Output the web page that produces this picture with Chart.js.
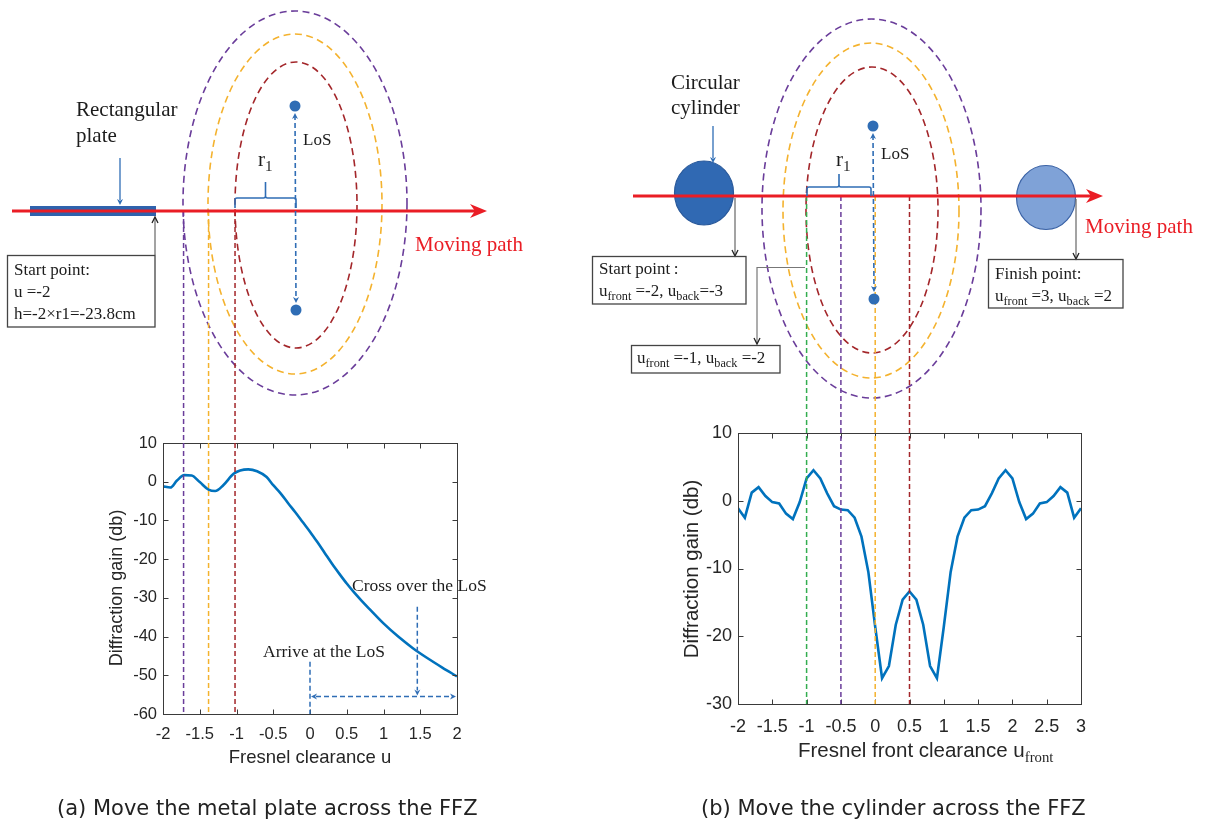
<!DOCTYPE html>
<html>
<head>
<meta charset="utf-8">
<script src="https://cdn.jsdelivr.net/npm/chart.js@4.4.1/dist/chart.umd.min.js"></script>
<style>
  html, body { margin: 0; padding: 0; background: #fff; width: 1207px; height: 827px; overflow: hidden; }
  #panelA { position: absolute; left: 0; top: 0; width: 600px; height: 827px; }
  #panelB { position: absolute; left: 580px; top: 0; width: 627px; height: 827px; }
</style>
</head>
<body>
<div id="panelA"><canvas id="chartA" width="600" height="827"></canvas></div>
<div id="panelB"><canvas id="chartB" width="627" height="827"></canvas></div>
<script>
// ---------- Panel (a): metal plate crossing the first Fresnel zones ----------
const plateU = [-2.0, -1.9, -1.81, -1.71, -1.61, -1.5, -1.38, -1.29, -1.18, -1.04, -0.95, -0.84, -0.72, -0.59,
  -0.5, -0.4, -0.3, -0.2, -0.1, 0.0, 0.1, 0.2, 0.3, 0.4, 0.5, 0.6, 0.7, 0.8, 1.0, 1.2, 1.4, 1.6, 1.8, 2.0];
const plateGain = [-1.2, -1.5, 0.3, 1.7, 1.6, -0.1, -2.05, -2.4, -0.9, 2.05, 2.9, 3.2, 2.7, 1.2,
  -0.9, -3.0, -5.5, -7.9, -10.4, -12.9, -15.6, -18.4, -21.2, -23.8, -26.3, -28.6, -30.7, -32.7, -36.6, -40.0, -43.0, -45.6, -48.0, -50.3];
const plateZoneU = [-1.72, -1.38, -1.02];          // edges of zones 3, 2, 1
const plateXTicks = { min: -2, max: 2, step: 0.5 };
const plateYTicks = { min: -60, max: 10, step: 10 };
const losArriveU = 0;        // plate edge reaches the LoS
const losCrossU = 1.46;      // plate edge has crossed the LoS
const arriveTopGain = -46.5;
const crossTopGain = -32.3;
const spanGain = -55.5;

// ---------- Panel (b): circular cylinder crossing the zones ----------
const cylU = [-2.0, -1.9, -1.8, -1.7, -1.6, -1.5, -1.4, -1.3, -1.2, -1.1,
  -1.0, -0.9, -0.8, -0.7, -0.6, -0.5, -0.4, -0.3, -0.2, -0.1,
  0.0, 0.1, 0.2, 0.3, 0.4, 0.5, 0.6, 0.7, 0.8, 0.9,
  1.0, 1.1, 1.2, 1.3, 1.4, 1.5, 1.6, 1.7, 1.8, 1.9,
  2.0, 2.1, 2.2, 2.3, 2.4, 2.5, 2.6, 2.7, 2.8, 2.9, 3.0];
const cylGain = [-1.1, -2.5, 1.2, 2.0, 0.7, -0.2, -0.4, -1.9, -2.7, -0.2,
  3.3, 4.5, 3.3, 1.1, -0.8, -1.3, -1.4, -2.5, -5.3, -10.5,
  -18.6, -26.2, -24.4, -18.3, -14.6, -13.4, -14.6, -18.3, -24.4, -26.2,
  -18.6, -10.5, -5.3, -2.5, -1.4, -1.3, -0.8, 1.1, 3.3, 4.5,
  3.3, -0.2, -2.7, -1.9, -0.4, -0.2, 0.7, 2.0, 1.2, -2.5, -1.1];
const cylMarkU = [-1.0, -0.5, 0.0, 0.5];
const cylXTicks = { min: -2, max: 3, step: 0.5 };
const cylYTicks = { min: -30, max: 10, step: 10 };

// ---------- styling ----------
const SERIF = '"Liberation Serif", "Times New Roman", serif';
const SANS = '"Liberation Sans", Arial, sans-serif';
const CAPTION = '"DejaVu Sans", sans-serif';
const INK = '#262626';
const TXT = '#1c1c1c';
const PURPLE = '#6a3d9a', ORANGE = '#f4b22e', DARKRED = '#a3262a', GREEN = '#33ad4f';
const LOS_BLUE = '#2f6db5';
const PATH_RED = '#ea1d25';
const CURVE = '#0072BD';
const plateZoneColors = [PURPLE, ORANGE, DARKRED];
const cylMarkColors = [GREEN, PURPLE, ORANGE, DARKRED];

// ---------- drawing helpers ----------
function label(ctx, str, x, y, size, color, family, align) {
  ctx.save();
  ctx.font = size + 'px ' + (family || SERIF);
  ctx.fillStyle = color || TXT;
  ctx.textAlign = align || 'left';
  ctx.textBaseline = 'alphabetic';
  ctx.fillText(str, x, y);
  ctx.restore();
}
// parts: [text, isSubscript]
function richLabel(ctx, parts, x, y, size, color, family, subFamily) {
  ctx.save();
  ctx.fillStyle = color || TXT;
  ctx.textBaseline = 'alphabetic';
  ctx.textAlign = 'left';
  let cx = x;
  parts.forEach(([s, sub]) => {
    const fs = sub ? size * 0.72 : size;
    ctx.font = fs + 'px ' + (sub ? (subFamily || family || SERIF) : (family || SERIF));
    ctx.fillText(s, cx, sub ? y + size * 0.22 : y);
    cx += ctx.measureText(s).width;
  });
  ctx.restore();
}
function dashedSeg(ctx, x1, y1, x2, y2, color, width, dash) {
  ctx.save();
  ctx.strokeStyle = color; ctx.lineWidth = width; ctx.setLineDash(dash);
  ctx.beginPath(); ctx.moveTo(x1, y1); ctx.lineTo(x2, y2); ctx.stroke();
  ctx.restore();
}
function dashedEllipse(ctx, cx, cy, rx, ry, color) {
  ctx.save();
  ctx.strokeStyle = color; ctx.lineWidth = 1.6; ctx.setLineDash([7, 4.5]);
  ctx.beginPath(); ctx.ellipse(cx, cy, rx, ry, 0, 0, Math.PI * 2); ctx.stroke();
  ctx.restore();
}
function solidEllipse(ctx, cx, cy, rx, ry, fill, stroke) {
  ctx.save();
  ctx.beginPath(); ctx.ellipse(cx, cy, rx, ry, 0, 0, Math.PI * 2);
  ctx.fillStyle = fill; ctx.fill();
  ctx.strokeStyle = stroke; ctx.lineWidth = 1.2; ctx.stroke();
  ctx.restore();
}
// arrow head with its tip at (x, y) pointing along angle
function head(ctx, x, y, ang, size, color, filled) {
  ctx.save();
  ctx.translate(x, y); ctx.rotate(ang);
  ctx.beginPath();
  ctx.moveTo(-size, -size * 0.5); ctx.lineTo(0, 0); ctx.lineTo(-size, size * 0.5);
  if (filled) { ctx.lineTo(-size * 0.7, 0); ctx.closePath(); ctx.fillStyle = color; ctx.fill(); }
  else { ctx.strokeStyle = color; ctx.lineWidth = 1.3; ctx.stroke(); }
  ctx.restore();
}
function solidSeg(ctx, pts, color, width) {
  ctx.save();
  ctx.strokeStyle = color; ctx.lineWidth = width;
  ctx.beginPath(); ctx.moveTo(pts[0][0], pts[0][1]);
  for (let i = 1; i < pts.length; i++) ctx.lineTo(pts[i][0], pts[i][1]);
  ctx.stroke();
  ctx.restore();
}
function movingPath(ctx, x0, y, tip) {
  solidSeg(ctx, [[x0, y], [tip - 8, y]], PATH_RED, 3);
  ctx.save();
  ctx.fillStyle = PATH_RED;
  ctx.beginPath();
  ctx.moveTo(tip, y); ctx.lineTo(tip - 17, y - 7); ctx.lineTo(tip - 12, y); ctx.lineTo(tip - 17, y + 7);
  ctx.closePath(); ctx.fill();
  ctx.restore();
}
function losLink(ctx, x1, y1, x2, y2) {
  ctx.save();
  ctx.fillStyle = LOS_BLUE;
  ctx.beginPath(); ctx.arc(x1, y1, 5.5, 0, Math.PI * 2); ctx.fill();
  ctx.beginPath(); ctx.arc(x2, y2, 5.5, 0, Math.PI * 2); ctx.fill();
  ctx.restore();
  dashedSeg(ctx, x1, y1 + 9, x2, y2 - 9, LOS_BLUE, 1.6, [5, 3]);
  head(ctx, x1, y1 + 7, -Math.PI / 2, 6, LOS_BLUE, true);
  head(ctx, x2, y2 - 7, Math.PI / 2, 6, LOS_BLUE, true);
}
function brace(ctx, x1, x2, yBar, yEnd, yPeak) {
  const xm = (x1 + x2) / 2;
  ctx.save();
  ctx.strokeStyle = LOS_BLUE; ctx.lineWidth = 1.6;
  ctx.beginPath();
  ctx.moveTo(x1, yEnd); ctx.lineTo(x1, yBar + 2); ctx.quadraticCurveTo(x1, yBar, x1 + 2, yBar);
  ctx.lineTo(xm - 2, yBar); ctx.quadraticCurveTo(xm, yBar, xm, yBar - 2); ctx.lineTo(xm, yPeak);
  ctx.moveTo(xm, yBar - 2); ctx.quadraticCurveTo(xm, yBar, xm + 2, yBar);
  ctx.lineTo(x2 - 2, yBar); ctx.quadraticCurveTo(x2, yBar, x2, yBar + 2); ctx.lineTo(x2, yEnd);
  ctx.stroke();
  ctx.restore();
}
function box(ctx, x1, y1, x2, y2) {
  ctx.save();
  ctx.strokeStyle = '#444'; ctx.lineWidth = 1.3;
  ctx.strokeRect(x1, y1, x2 - x1, y2 - y1);
  ctx.restore();
}
// MATLAB-style axes box with inward ticks on all four sides
function drawFrame(chart, tickLen) {
  const { ctx, chartArea: a, scales: { x, y } } = chart;
  ctx.save();
  ctx.strokeStyle = '#3a3a3a'; ctx.lineWidth = 1;
  const L = Math.round(a.left) + 0.5, R = Math.round(a.right) + 0.5;
  const T = Math.round(a.top) + 0.5, B = Math.round(a.bottom) + 0.5;
  ctx.strokeRect(L, T, R - L, B - T);
  ctx.beginPath();
  x.ticks.forEach(t => {
    const px = Math.round(x.getPixelForValue(t.value)) + 0.5;
    ctx.moveTo(px, B); ctx.lineTo(px, B - tickLen);
    ctx.moveTo(px, T); ctx.lineTo(px, T + tickLen);
  });
  y.ticks.forEach(t => {
    const py = Math.round(y.getPixelForValue(t.value)) + 0.5;
    ctx.moveTo(L, py); ctx.lineTo(L + tickLen, py);
    ctx.moveTo(R, py); ctx.lineTo(R - tickLen, py);
  });
  ctx.stroke();
  ctx.restore();
}
function yTitle(ctx, str, x, y, size) {
  ctx.save();
  ctx.translate(x, y); ctx.rotate(-Math.PI / 2);
  ctx.font = size + 'px ' + SANS; ctx.fillStyle = INK;
  ctx.textAlign = 'center'; ctx.textBaseline = 'middle';
  ctx.fillText(str, 0, 0);
  ctx.restore();
}

// ---------- panel (a) overlay: geometry sketch, zone markers, annotations ----------
const plateOverlay = {
  id: 'plateOverlay',
  afterDatasetsDraw(chart) {
    const { ctx, chartArea: a, scales: { x, y } } = chart;
    drawFrame(chart, 5);
    yTitle(ctx, 'Diffraction gain (db)', 117, 588, 18);
    label(ctx, 'Fresnel clearance u', 310, 763, 18.5, INK, SANS, 'center');

    // Fresnel zone ellipses
    dashedEllipse(ctx, 295, 203, 112, 192, PURPLE);
    dashedEllipse(ctx, 295, 204, 87, 170, ORANGE);
    dashedEllipse(ctx, 296, 205, 61, 143, DARKRED);

    // zone edges projected onto the gain plot
    plateZoneU.forEach((u, i) => {
      const px = x.getPixelForValue(u);
      dashedSeg(ctx, px, 211, px, a.bottom, plateZoneColors[i], 1.5, [5, 3]);
    });

    // plate on the moving path
    ctx.save(); ctx.fillStyle = '#2f62ad'; ctx.fillRect(30, 206, 126, 10); ctx.restore();
    movingPath(ctx, 12, 211, 487);
    label(ctx, 'Moving path', 415, 251, 21, PATH_RED);

    losLink(ctx, 295, 106, 296, 310);
    label(ctx, 'LoS', 303, 145, 17);
    brace(ctx, 235, 296, 198, 208, 182);
    richLabel(ctx, [['r', 0], ['1', 1]], 258, 166, 21);

    label(ctx, 'Rectangular', 76, 116, 21);
    label(ctx, 'plate', 76, 142, 21);
    solidSeg(ctx, [[120, 158], [120, 200]], LOS_BLUE, 1.3);
    head(ctx, 120, 205, Math.PI / 2, 6, LOS_BLUE, true);

    solidSeg(ctx, [[155, 255], [155, 218]], '#666', 1.2);
    head(ctx, 155, 217, -Math.PI / 2, 6, '#222', false);
    box(ctx, 7.5, 255.5, 155, 327);
    label(ctx, 'Start point:', 14, 275, 17);
    label(ctx, 'u =-2', 14, 297, 17);
    label(ctx, 'h=-2\u00d7r1=-23.8cm', 14, 319, 17);

    // LoS arrival / crossing annotations on the plot
    const xa = x.getPixelForValue(losArriveU), xc = x.getPixelForValue(losCrossU);
    const yspan = y.getPixelForValue(spanGain);
    dashedSeg(ctx, xa, y.getPixelForValue(arriveTopGain), xa, a.bottom, LOS_BLUE, 1.5, [5, 3]);
    dashedSeg(ctx, xa + 6, yspan, a.right - 6, yspan, LOS_BLUE, 1.5, [5, 3]);
    head(ctx, xa + 1, yspan, Math.PI, 6, LOS_BLUE, true);
    head(ctx, a.right - 1, yspan, 0, 6, LOS_BLUE, true);
    dashedSeg(ctx, xc, y.getPixelForValue(crossTopGain), xc, yspan - 6, LOS_BLUE, 1.5, [5, 3]);
    head(ctx, xc, yspan - 1, Math.PI / 2, 6, LOS_BLUE, true);
    label(ctx, 'Arrive at the LoS', 263, 657, 17.5);
    label(ctx, 'Cross over the LoS', 352, 591, 17.5);

    label(ctx, '(a) Move the metal plate across the FFZ', 57, 815, 21, '#222', CAPTION);
  }
};

// ---------- panel (b) overlay ----------
const OFF_B = 580; // page x of panel (b) canvas
const cylOverlay = {
  id: 'cylOverlay',
  afterDatasetsDraw(chart) {
    const { ctx, chartArea: a, scales: { x } } = chart;
    drawFrame(chart, 5);
    ctx.save();
    ctx.translate(-OFF_B, 0); // sketch below uses page coordinates
    yTitle(ctx, 'Diffraction gain (db)', 692, 569, 20.5);
    richLabel(ctx, [['Fresnel front clearance u', 0], ['front', 1]], 798, 757, 20.5, INK, SANS, SERIF);

    dashedEllipse(ctx, 871.5, 208.5, 109.5, 189.5, PURPLE);
    dashedEllipse(ctx, 871, 210.5, 88, 167.5, ORANGE);
    dashedEllipse(ctx, 872, 210, 66, 143, DARKRED);

    cylMarkU.forEach((u, i) => {
      const px = x.getPixelForValue(u) + OFF_B;
      dashedSeg(ctx, px, 196, px, a.bottom, cylMarkColors[i], 1.5, [5, 3]);
    });

    solidEllipse(ctx, 704, 193, 29.5, 32, '#3069b3', '#29599b');
    solidEllipse(ctx, 1046, 197.5, 29.5, 32, '#7fa2d7', '#3b63a6');
    movingPath(ctx, 633, 196, 1103);
    label(ctx, 'Moving path', 1085, 233, 21, PATH_RED);

    losLink(ctx, 873, 126, 874, 299);
    label(ctx, 'LoS', 881, 159, 17);
    brace(ctx, 807, 871, 187, 196, 174);
    richLabel(ctx, [['r', 0], ['1', 1]], 836, 166, 21);

    label(ctx, 'Circular', 671, 89, 21);
    label(ctx, 'cylinder', 671, 114, 21);
    solidSeg(ctx, [[713, 126], [713, 158]], LOS_BLUE, 1.3);
    head(ctx, 713, 163, Math.PI / 2, 6, LOS_BLUE, true);

    // start point callout
    solidSeg(ctx, [[735, 198], [735, 255]], '#666', 1.2);
    head(ctx, 735, 256, Math.PI / 2, 6, '#222', false);
    box(ctx, 592.5, 256.5, 746, 304);
    label(ctx, 'Start point\u2009:', 599, 274, 17);
    richLabel(ctx, [['u', 0], ['front', 1], [' =-2, u', 0], ['back', 1], ['=-3', 0]], 599, 296, 17);

    // u_front = -1 callout
    solidSeg(ctx, [[805, 267.5], [757, 267.5], [757, 343]], '#777', 1.2);
    head(ctx, 757, 344, Math.PI / 2, 6, '#222', false);
    box(ctx, 631.5, 345.5, 780, 373);
    richLabel(ctx, [['u', 0], ['front', 1], [' =-1, u', 0], ['back', 1], [' =-2', 0]], 637, 363, 17);

    // finish point callout
    solidSeg(ctx, [[1076, 199], [1076, 258]], '#666', 1.2);
    head(ctx, 1076, 259, Math.PI / 2, 6, '#222', false);
    box(ctx, 988.5, 259.5, 1123, 308);
    label(ctx, 'Finish point:', 995, 279, 17);
    richLabel(ctx, [['u', 0], ['front', 1], [' =3, u', 0], ['back', 1], [' =2', 0]], 995, 301, 17);

    label(ctx, '(b) Move the cylinder across the FFZ', 701, 815, 21, '#222', CAPTION);
    ctx.restore();
  }
};

// ---------- chart factory ----------
const fmt = v => String(Math.round(v * 100) / 100);
function axisOpts(t, size, pad, fitKey, fitVal) {
  return {
    type: 'linear', min: t.min, max: t.max,
    ticks: { stepSize: t.step, color: INK, font: { family: SANS, size: size }, padding: pad,
             maxRotation: 0, autoSkip: false, callback: fmt },
    grid: { display: false, drawTicks: false }, border: { display: false },
    afterFit(s) { s[fitKey] = fitVal; }
  };
}
function makeChart(id, us, gains, xt, yt, smooth, pad, tickSize, xPad, overlay) {
  const pts = us.map((u, i) => ({ x: u, y: gains[i] }));
  return new Chart(document.getElementById(id), {
    type: 'line',
    data: { datasets: [{ data: pts, borderColor: CURVE, borderWidth: 2.6, pointRadius: 0,
      fill: false, tension: 0, cubicInterpolationMode: smooth ? 'monotone' : 'default' }] },
    options: {
      responsive: false, animation: false, devicePixelRatio: 1,
      layout: { padding: pad },
      plugins: { legend: { display: false }, tooltip: { enabled: false } },
      scales: {
        x: axisOpts(xt, tickSize, xPad, 'height', 40),
        y: axisOpts(yt, tickSize, 6, 'width', 40)
      }
    },
    plugins: [overlay]
  });
}

makeChart('chartA', plateU, plateGain, plateXTicks, plateYTicks, true,
  { left: 123, right: 143, top: 443, bottom: 73 }, 16.5, 11, plateOverlay);
makeChart('chartB', cylU, cylGain, cylXTicks, cylYTicks, false,
  { left: 118, right: 126, top: 433, bottom: 83 }, 18, 12, cylOverlay);
</script>
</body>
</html>
